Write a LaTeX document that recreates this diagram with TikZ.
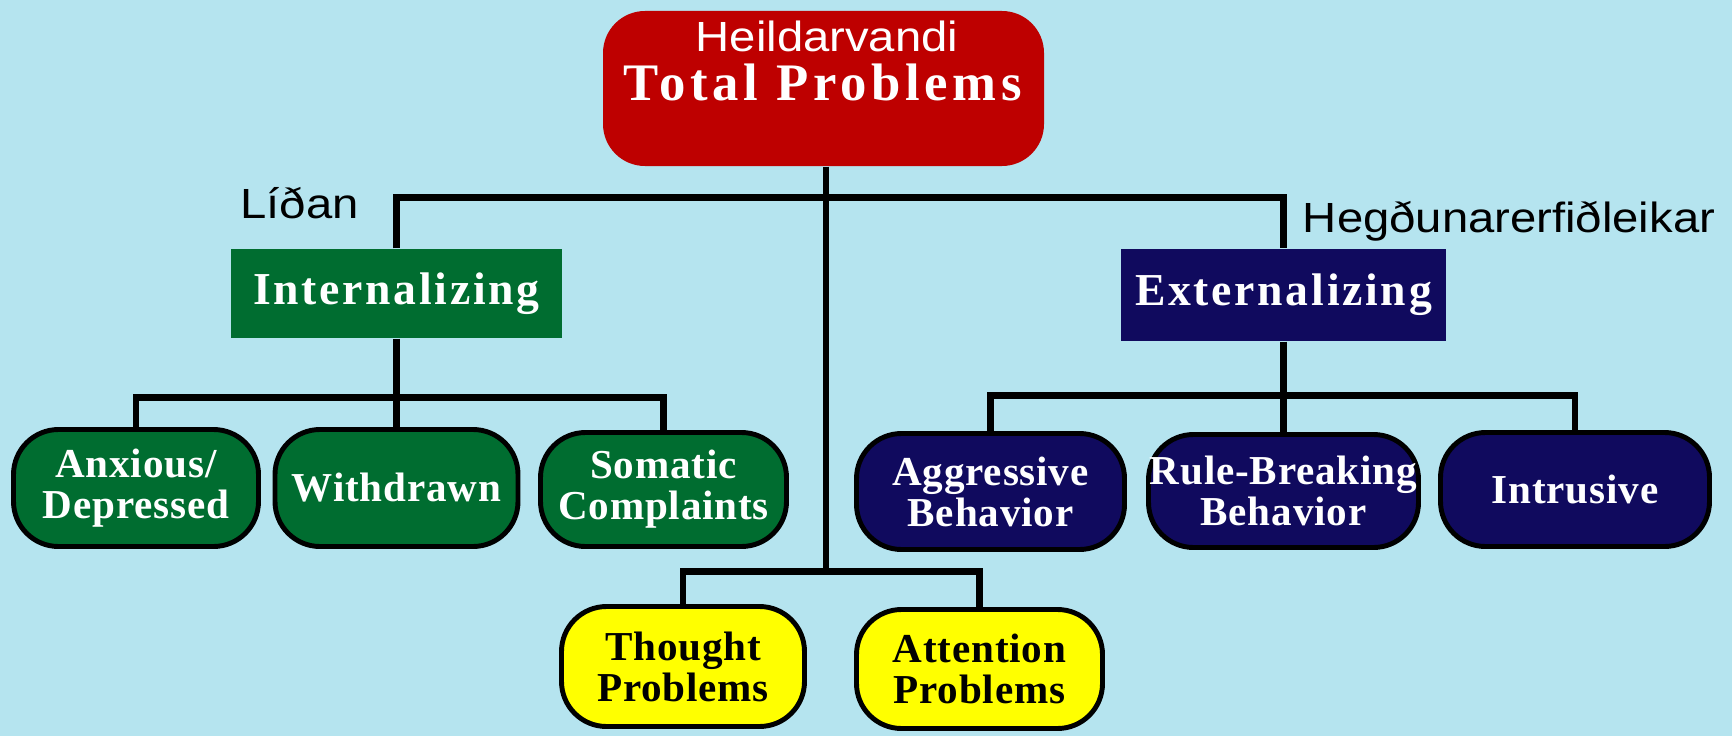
\documentclass[tikz,border=0pt]{standalone}
\usepackage{fontspec}
\setmainfont{Liberation Serif}
\newfontfamily\labelfont[FakeStretch=1.12]{Liberation Sans}
\newfontfamily\boxfont[LetterSpace=2]{Liberation Serif}
\newfontfamily\headfont[LetterSpace=6]{Liberation Serif}
\newfontfamily\topfont[LetterSpace=9]{Liberation Serif}
\usetikzlibrary{calc}
\usepackage{xcolor}

\definecolor{skyback}{RGB}{181,228,239}
\definecolor{totalred}{RGB}{190,0,0}
\definecolor{intgreen}{RGB}{0,109,48}
\definecolor{extnavy}{RGB}{16,10,94}
\definecolor{probyellow}{RGB}{255,255,0}

\tikzset{
        conn/.style={line width=1.85pt,black,line join=miter},
        syndrome/.style={draw=black,line width=1.4pt,rounded corners=0.45cm,align=center,
                inner sep=0pt,minimum height=1.17cm,
                font=\boxfont\bfseries\fontsize{11.7}{11.7}\selectfont},
        headbox/.style={inner sep=0pt,text=white,
                font=\headfont\bfseries\fontsize{13}{13}\selectfont},
        sidelabel/.style={anchor=base,inner sep=0pt,font=\labelfont\fontsize{12}{12}\selectfont}
}

\begin{document}
\begin{tikzpicture}
        \fill[skyback] (0,0) rectangle (17.32,-7.36);

        % top box
        \node[fill=totalred,rounded corners=0.42cm,minimum width=4.41cm,minimum height=1.55cm] (total) at (8.235,-0.885) {};
        \node[sidelabel,text=white] (heil) at (8.27,-0.52) {Heildarvandi};
        \node[anchor=base,inner sep=0pt,text=white,font=\topfont\bfseries\fontsize{15}{15}\selectfont] (totaltxt) at (8.23,-1.00) {Total Problems};

        % second level
        \node[headbox,fill=intgreen,minimum width=3.31cm,minimum height=0.89cm] (intern) at (3.965,-2.935) {Internalizing};
        \node[headbox,fill=extnavy,minimum width=3.25cm,minimum height=0.92cm] (extern) at (12.835,-2.95) {Externalizing};
        \node[sidelabel] (lidan) at (2.995,-2.18) {Líðan};
        \node[sidelabel] (hegd) at (15.09,-2.32) {Hegðunarerfiðleikar};

        % syndrome scales
        \node[syndrome,fill=intgreen,text=white,minimum width=2.45cm] (anx) at (1.36,-4.88) {Anxious/\\Depressed};
        \node[syndrome,fill=intgreen,text=white,minimum width=2.43cm] (withd) at (3.965,-4.88) {Withdrawn};
        \node[syndrome,fill=intgreen,text=white,minimum width=2.46cm,minimum height=1.14cm] (soma) at (6.635,-4.895) {Somatic\\Complaints};
        \node[syndrome,fill=extnavy,text=white,minimum width=2.68cm,minimum height=1.16cm] (aggr) at (9.905,-4.915) {Aggressive\\Behavior};
        \node[syndrome,fill=extnavy,text=white,minimum width=2.70cm,minimum height=1.13cm] (rule) at (12.835,-4.91) {Rule-Breaking\\Behavior};
        \node[syndrome,fill=extnavy,text=white,minimum width=2.69cm,minimum height=1.14cm] (intr) at (15.75,-4.895) {Intrusive};
        \node[syndrome,fill=probyellow,text=black,minimum width=2.43cm,minimum height=1.20cm] (thought) at (6.83,-6.665) {Thought\\Problems};
        \node[syndrome,fill=probyellow,text=black,minimum width=2.46cm,minimum height=1.19cm] (atten) at (9.795,-6.69) {Attention\\Problems};

        \coordinate (hub) at ($(total.south)+(0.025,-0.31)$);
        \coordinate (midhub) at ($(hub)+(0,-3.74)$);
        \coordinate (inthub) at ($(intern.south)+(0,-0.59)$);
        \coordinate (exthub) at ($(extern.south)+(0,-0.54)$);

        \draw[conn] (total.south -| hub) -- (hub);
        \draw[conn] (intern.north) |- (hub) -| (extern.north);
        \draw[conn] (hub) -- (midhub);
        \draw[conn] (thought.north) |- (midhub) -| (atten.north);

        \draw[conn] (intern.south) -- (inthub);
        \draw[conn] (anx.north) |- (inthub) -| (soma.north);
        \draw[conn] (inthub) -- (withd.north);

        \draw[conn] (extern.south) -- (exthub);
        \draw[conn] (aggr.north) |- (exthub) -| (intr.north);
        \draw[conn] (exthub) -- (rule.north);

      \end{tikzpicture}
\end{document}
